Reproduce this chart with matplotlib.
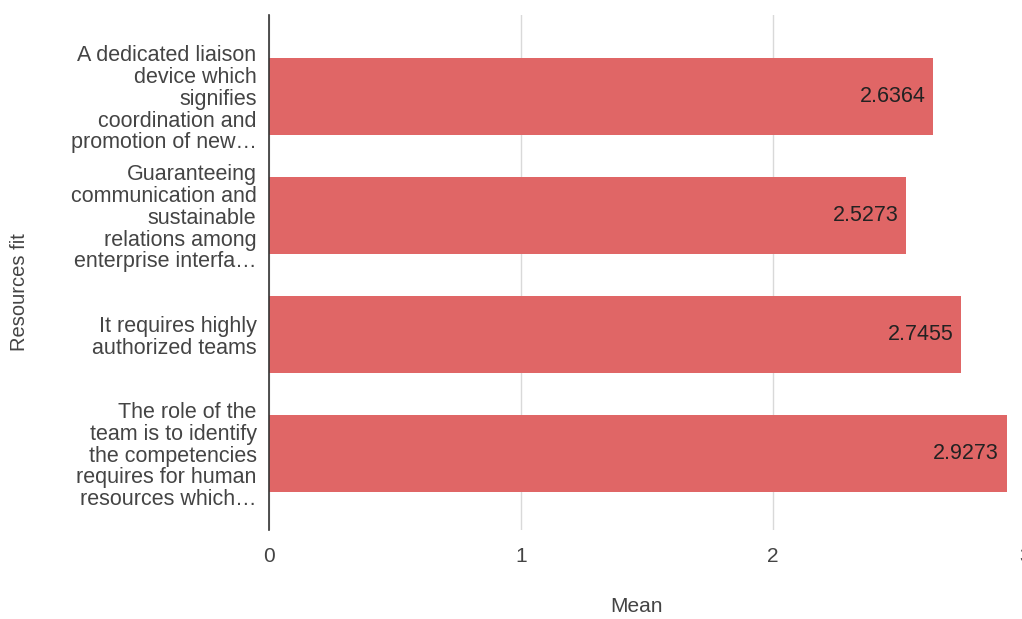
import matplotlib
matplotlib.use("Agg")
import matplotlib.pyplot as plt

plt.rcParams['font.family'] = ['Liberation Sans', 'DejaVu Sans']

categories = [
    "A dedicated liaison\ndevice which\nsignifies\ncoordination and\npromotion of new\u2026",
    "Guaranteeing\ncommunication and\nsustainable\nrelations among\nenterprise interfa\u2026",
    "It requires highly\nauthorized teams",
    "The role of the\nteam is to identify\nthe competencies\nrequires for human\nresources which\u2026",
]
means = [2.6364, 2.5273, 2.7455, 2.9273]
x_ticks = [0, 1, 2, 3]

W, H = 1022, 619
fig = plt.figure(figsize=(W / 100, H / 100), dpi=100)
ax = fig.add_axes([269 / W, 1 - 530 / H, 756 / W, 515 / H])

bar_color = "#e06666"
ypos = list(range(len(categories)))
ax.barh(ypos, means, height=0.65, color=bar_color, zorder=2)

for y, v in zip(ypos, means):
    ax.text(v - 0.03, y, f"{v:.4f}", ha="right", va="center",
            fontsize=15.5, color="#222222", zorder=3)

ax.set_xlim(0, 3)
ax.set_ylim(3.645, -0.685)
ax.set_xticks(x_ticks)
ax.set_xticklabels([str(t) for t in x_ticks], fontsize=15, color="#444444")
ax.set_yticks(ypos)
ax.set_yticklabels(categories, fontsize=15.5, color="#444444", linespacing=1.05)
ax.tick_params(axis="both", length=0)
ax.tick_params(axis="x", pad=12)
ax.tick_params(axis="y", pad=9)

ax.grid(axis="x", color="#d9d9d9", linewidth=1, zorder=0)
for s in ["top", "right", "bottom"]:
    ax.spines[s].set_visible(False)
ax.spines["left"].set_color("#333333")
ax.spines["left"].set_linewidth(1.2)
ax.spines["left"].set_zorder(4)

fig.text(636 / W, 1 - 606 / H, "Mean", ha="center", va="center",
         fontsize=15, color="#444444")
fig.text(20 / W, 1 - 292 / H, "Resources fit", ha="center", va="center",
         rotation=90, fontsize=14.5, color="#444444")

fig.savefig("out.png", dpi=100)
